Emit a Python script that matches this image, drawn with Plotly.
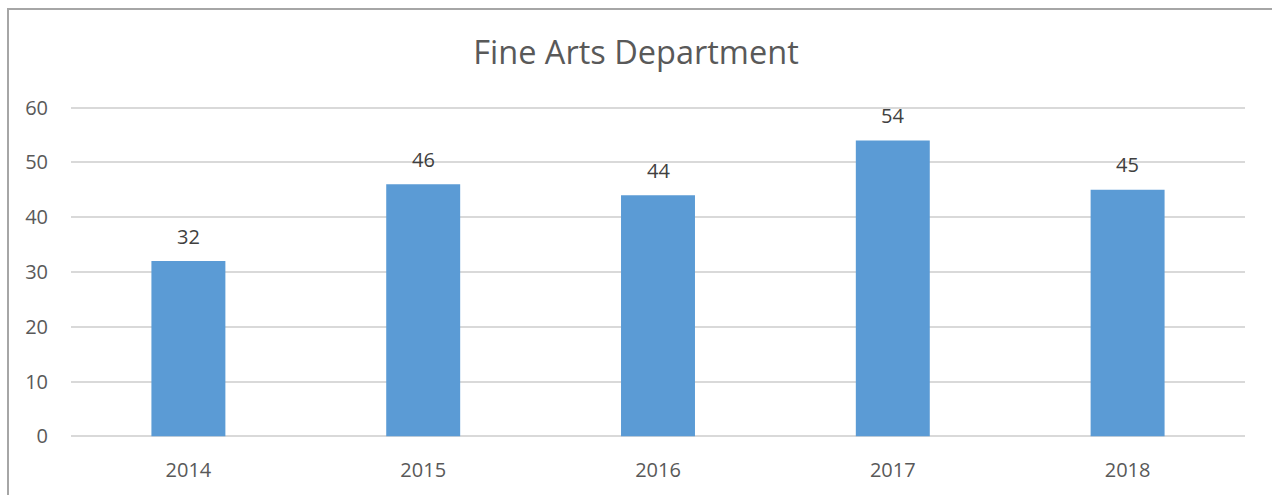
import plotly.graph_objects as go

years = ["2014", "2015", "2016", "2017", "2018"]
values = [32, 46, 44, 54, 45]
y_ticks = [0, 10, 20, 30, 40, 50, 60]

fig = go.Figure()
fig.add_trace(go.Bar(
    x=years, y=values,
    marker=dict(color="#5b9bd5", line=dict(width=0)),
    hoverinfo="x+y",
))

for i, v in enumerate(values):
    fig.add_annotation(xref="x", yref="y", x=i, y=v, text=str(v), showarrow=False,
                       yshift=25, font=dict(size=20, color="#404040"))

fig.add_shape(type="rect", xref="paper", yref="paper",
              x0=(8 - 71) / 1174, x1=1.2, y0=-0.5, y1=(440 - 8.5) / 334,
              line=dict(color="#a6a6a6", width=2), fillcolor="rgba(0,0,0,0)", layer="below")

fig.update_layout(
    width=1272, height=495,
    margin=dict(l=71, r=27, t=106, b=55),
    paper_bgcolor="white", plot_bgcolor="white",
    font=dict(family="Open Sans", color="#595959"),
    title=dict(text="Fine Arts Department", x=0.5, xanchor="center",
               y=1 - 53 / 495, yanchor="middle",
               font=dict(size=32.5, color="#595959")),
    bargap=0.685,
    showlegend=False,
    xaxis=dict(type="category", range=[-0.5, 4.5], autorange=False,
               showgrid=False, showline=False, ticks="", zeroline=False,
               tickfont=dict(size=20, color="#595959"), ticklabelstandoff=18),
    yaxis=dict(range=[-0.3, 60.3], autorange=False, tickvals=y_ticks, showgrid=True,
               gridcolor="#d9d9d9", gridwidth=1.5, zeroline=False, showline=False, ticks="",
               tickfont=dict(size=20, color="#595959"), ticklabelstandoff=22),
)

fig.write_html("out.html", config={"displayModeBar": False},
               post_script="document.body.style.margin='0';")
